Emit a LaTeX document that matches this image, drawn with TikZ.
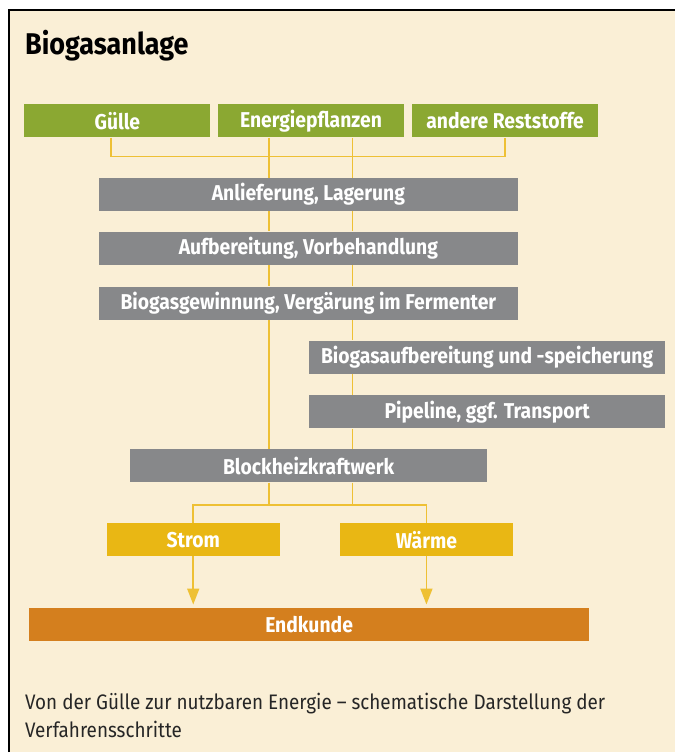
\documentclass[tikz,border=0pt]{standalone}
\usepackage{fontspec}
\setmainfont{Fira Sans}[FakeStretch=0.9]
\usetikzlibrary{arrows.meta}

\definecolor{creme}{RGB}{250,239,214}
\definecolor{gruen}{RGB}{139,168,50}
\definecolor{grau}{RGB}{135,136,138}
\definecolor{gelb}{RGB}{233,183,20}
\definecolor{orange}{RGB}{212,127,30}
\definecolor{linie}{RGB}{238,192,52}

\tikzset{
  box/.style={rectangle, minimum height=33pt, inner sep=0pt, text=white,
    font=\bfseries\fontsize{21.5}{21.5}\selectfont},
  quelle/.style={box, fill=gruen, minimum width=186pt},
  stufe/.style={box, fill=grau},
  produkt/.style={box, fill=gelb, minimum width=173pt},
  flow/.style={draw=linie, line width=1.8pt},
  pfeil/.style={flow, -{Triangle[width=12pt,length=16pt]}, shorten >=3pt},
}

\begin{document}
\begin{tikzpicture}[x=1pt,y=-1pt]
% frame and background
\fill[white] (0,0) rectangle (676,753);
\fill[creme] (9,10) rectangle (676,753);
\draw[black, line width=2pt] (9,753) -- (9,10) -- (676,10);
\useasboundingbox (0,0) rectangle (676,753);

% title
\node[anchor=base west, inner sep=0pt, font=\bfseries\fontsize{30}{30}\selectfont] (titel) at (25,55) {Biogasanlage};

% input materials
\node[quelle] (guelle) at (117.5,121) {Gülle};
\node[quelle] (energie) at (311.4,121) {Energiepflanzen};
\node[quelle] (rest) at (505.8,121) {andere Reststoffe};

% process steps
\node[stufe, minimum width=420pt] (anl) at (308.8,194.5) {Anlieferung, Lagerung};
\node[stufe, minimum width=420pt] (aufb) at (308.8,248.5) {Aufbereitung, Vorbehandlung};
\node[stufe, minimum width=420pt] (gewinn) at (308.8,303.5) {Biogasgewinnung, Vergärung im Fermenter};
\node[stufe, minimum width=357pt] (gasauf) at (487.8,357.5) {Biogasaufbereitung und -speicherung};
\node[stufe, minimum width=357pt] (pipe) at (487.8,412.5) {Pipeline, ggf. Transport};
\node[stufe, minimum width=357pt] (bhkw) at (309,466.5) {Blockheizkraftwerk};

% outputs
\node[produkt] (strom) at (193.5,540.5) {Strom};
\node[produkt] (waerme) at (427,540.5) {Wärme};
\node[box, fill=orange, minimum width=561pt] (endkunde) at (309.5,625) {Endkunde};

% caption
\node[anchor=north west, inner sep=0pt, align=left, text=black!85,
  font=\fontsize{21}{28}\selectfont] (text) at (25,694)
  {Von der Gülle zur nutzbaren Energie – schematische Darstellung der\\Verfahrensschritte};

% line positions
\coordinate (gx) at (111,0);
\coordinate (xl) at (269,0);
\coordinate (xr) at (353,0);

% connectors
\draw[flow] (guelle.south -| gx) -- ++(0,19) -| (rest.south);
\foreach \a/\b in {energie/anl, anl/aufb, aufb/gewinn, gewinn/bhkw}
  \draw[flow] (\a.south -| xl) -- (\b.north -| xl);
\foreach \a/\b in {energie/anl, anl/aufb, aufb/gewinn, gewinn/gasauf, gasauf/pipe, pipe/bhkw}
  \draw[flow] (\a.south -| xr) -- (\b.north -| xr);
\draw[flow] (bhkw.south -| xl) -- ++(0,23);
\draw[flow] (bhkw.south -| xr) -- ++(0,23);
\draw[flow] (strom.north) -- ++(0,-18) -| (waerme.north);
\draw[pfeil] (strom.south) -- (strom.south |- endkunde.north);
\draw[pfeil] (waerme.south) -- (waerme.south |- endkunde.north);
\end{tikzpicture}
\end{document}
